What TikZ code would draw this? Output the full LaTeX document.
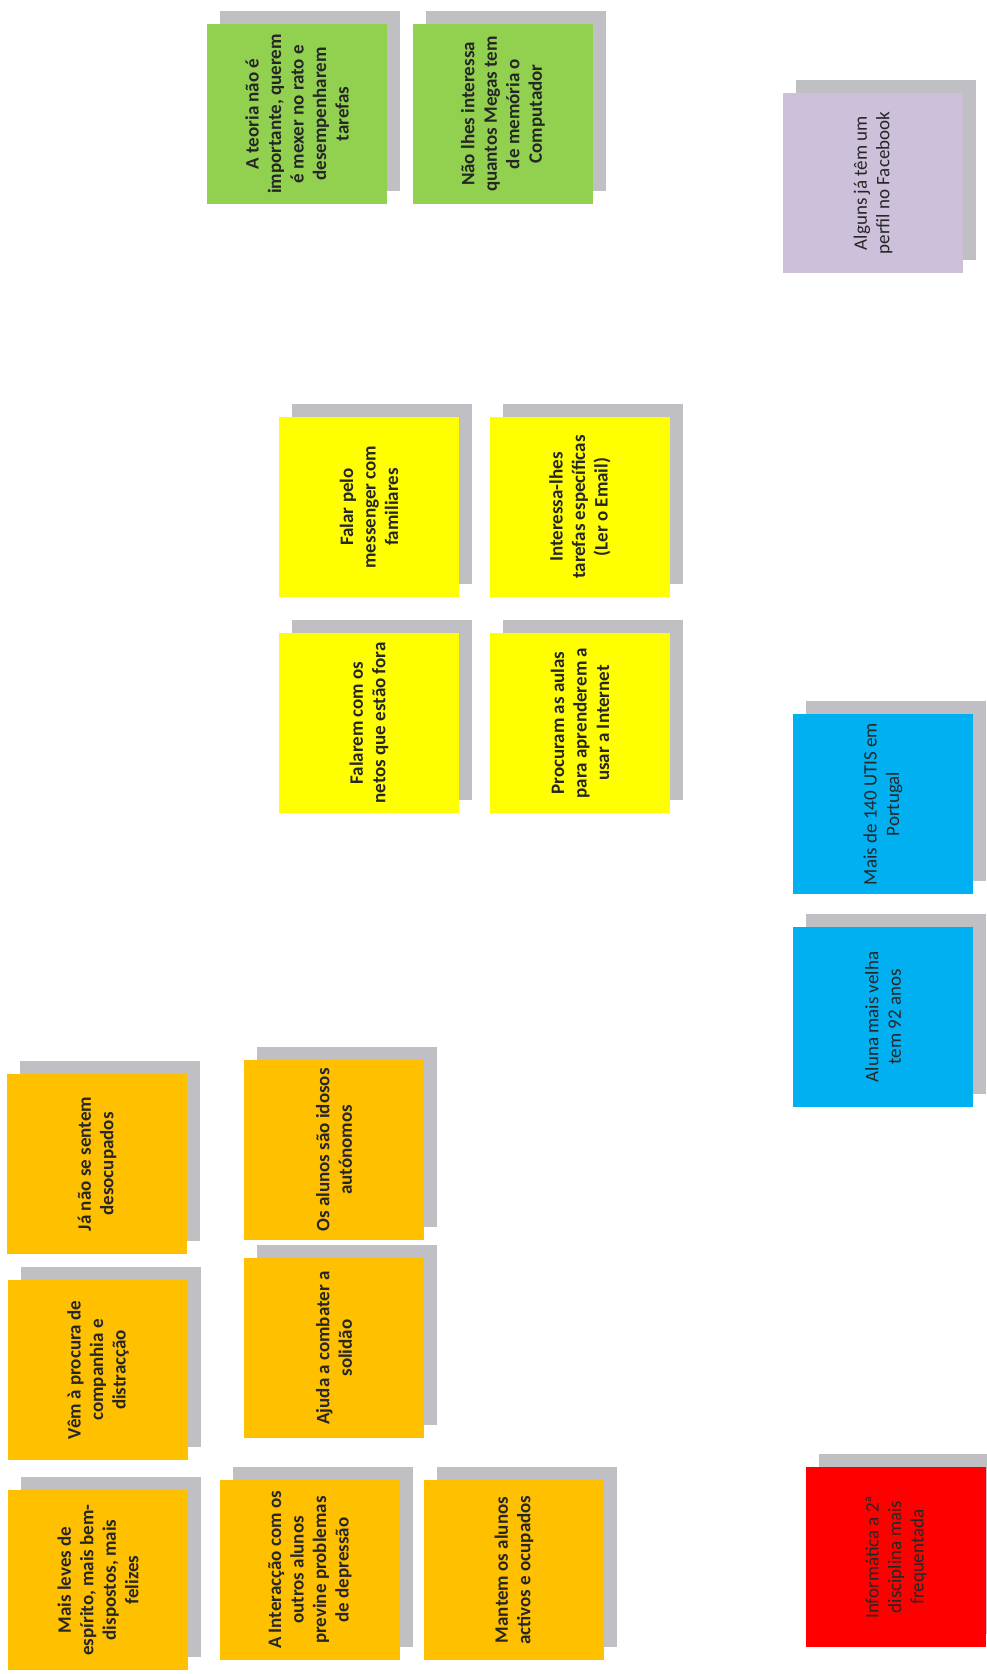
\documentclass[tikz,border=0pt]{standalone}
\usepackage{fontspec}
\setmainfont{Carlito}
\usetikzlibrary{shadows}
\definecolor{notegreen}{HTML}{92D050}
\definecolor{notepurple}{HTML}{CCC0DA}
\definecolor{noteyellow}{HTML}{FFFF00}
\definecolor{noteblue}{HTML}{00B0F0}
\definecolor{noteorange}{HTML}{FFC000}
\definecolor{notered}{HTML}{FF0000}
\definecolor{noteshadow}{HTML}{BFBFC4}
\begin{document}
\begin{tikzpicture}[x=1pt, y=-1pt,
note/.style={minimum size=180pt, inner sep=0pt, rotate=90, align=center, text=black!85,
  font=\fontsize{19}{22.5}\selectfont\bfseries,
  general shadow={fill=noteshadow, shadow xshift=13pt, shadow yshift=13pt}},
plain/.style={font=\fontsize{19}{22.5}\selectfont}]
\useasboundingbox[fill=white] (0,0) rectangle (986,1674);
% green notes
\node[note, fill=notegreen] (teoria) at (297,114) {A teoria não é\\importante, querem\\é mexer no rato e\\desempenharem\\tarefas};
\node[note, fill=notegreen] (megas) at (503,114) {Não lhes interessa\\quantos Megas tem\\de memória o\\Computador};
\node[note, plain, fill=notepurple] (facebook) at (873,183) {Alguns já têm um\\perfil no Facebook};
% yellow notes
\node[note, fill=noteyellow] (messenger) at (369,507) {Falar pelo\\messenger com\\familiares};
\node[note, fill=noteyellow] (email) at (580,507) {Interessa-lhes\\tarefas específicas\\(Ler o Email)};
\node[note, fill=noteyellow] (netos) at (369,723) {Falarem com os\\netos que estão fora};
\node[note, fill=noteyellow] (internet) at (580,723) {Procuram as aulas\\para aprenderem a\\usar a Internet};
% blue notes
\node[note, plain, fill=noteblue] (utis) at (883,804) {Mais de 140 UTIS em\\Portugal};
\node[note, plain, fill=noteblue] (aluna) at (883,1017) {Aluna mais velha\\tem 92 anos};
% orange notes
\node[note, fill=noteorange] (desocupados) at (97,1164) {Já não se sentem\\desocupados};
\node[note, fill=noteorange] (companhia) at (98,1370) {Vêm à procura de\\companhia e\\distracção};
\node[note, fill=noteorange] (felizes) at (98,1580) {Mais leves de\\espírito, mais bem-\\dispostos, mais\\felizes};
\node[note, fill=noteorange] (autonomos) at (334,1150) {Os alunos são idosos\\autónomos};
\node[note, fill=noteorange] (solidao) at (334,1348) {Ajuda a combater a\\solidão};
\node[note, fill=noteorange] (depressao) at (310,1570) {A Interacção com os\\outros alunos\\previne problemas\\de depressão};
\node[note, fill=noteorange] (ocupados) at (514,1570) {Mantem os alunos\\activos e ocupados};
% red note
\node[note, plain, fill=notered] (informatica) at (896,1557) {Informática a 2ª\\disciplina mais\\frequentada};
\end{tikzpicture}
\end{document}
